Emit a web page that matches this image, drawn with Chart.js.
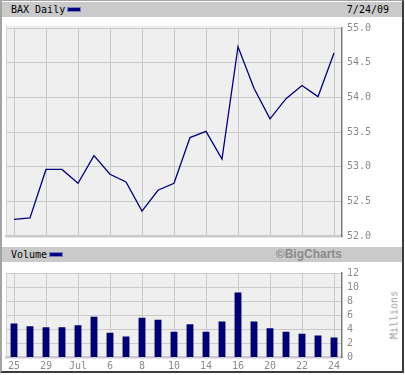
<!DOCTYPE html>
<html>
<head>
<meta charset="utf-8">
<script src="https://cdn.jsdelivr.net/npm/chart.js@4/dist/chart.umd.min.js"></script>
<style>
  html, body { margin: 0; padding: 0; background: #fff; }
  body { width: 405px; height: 375px; position: relative; overflow: hidden; font-family: "DejaVu Sans Mono", monospace; }
  #frame { position: absolute; left: 0; top: 0; width: 404px; height: 373px; box-sizing: border-box;
           border-left: 2px solid #a4a4a4; border-top: 1px solid #a4a4a4; border-right: 2px solid #3c3c3c; border-bottom: 2px solid #3c3c3c; }
  .bar { position: absolute; left: 2px; width: 400px; height: 15px; background: #cacaca; font-size: 10px; line-height: 15px; color: #000; }
  .bar .t { position: absolute; left: 9px; top: 0; }
  .sw { display: inline-block; width: 12px; height: 3px; background: #000080; vertical-align: 2px; margin-left: 3px; outline: 1px solid #8080b8; }
  #date { position: absolute; right: 13px; top: 0; }
  #bc { position: absolute; right: 60px; top: 0; font-family: "Liberation Sans", Arial, sans-serif; font-weight: bold; font-size: 12px; color: #8a8a8a; }
  canvas { position: absolute; left: 0; }
  #mil { position: absolute; left: 393.5px; top: 315px; transform: translate(-50%, -50%) rotate(-90deg); font-size: 10px; color: #9a9a9a; white-space: nowrap; }
</style>
</head>
<body>
<div id="frame"></div>
<div class="bar" style="top:2px"><span class="t">BAX Daily<span class="sw"></span></span><span id="date">7/24/09</span></div>
<div class="bar" style="top:247px"><span class="t">Volume<span class="sw"></span></span><span id="bc">©BigCharts</span></div>
<canvas id="price" width="405" height="230" style="top:17px"></canvas>
<canvas id="vol" width="405" height="113" style="top:262px"></canvas>
<div id="mil">Millions</div>
<script>
// Trading days 6/25/09 – 7/24/09
const days = ['25','26','29','30','Jul','2','6','7','8','9','10','13','14','15','16','17','20','21','22','23','24'];
const closePrices = [52.24,52.26,52.96,52.96,52.76,53.16,52.89,52.78,52.36,52.66,52.76,53.42,53.51,53.11,54.73,54.13,53.69,53.98,54.17,54.01,54.64];
const volumeMillions = [4.84,4.44,4.31,4.31,4.57,5.77,3.51,2.97,5.64,5.37,3.64,4.71,3.64,5.11,9.24,5.11,4.17,3.64,3.37,3.11,2.84];
const priceTicks = [52.0,52.5,53.0,53.5,54.0,54.5,55.0];
const volumeTicks = [0,2,4,6,8,10,12];

Chart.defaults.font.family = '"DejaVu Sans Mono", monospace';
Chart.defaults.font.size = 10;
Chart.defaults.color = '#8a8a8a';

const GRID = '#cacaca';
const BG = '#efefef';

function bgPlugin(extraTop) {
  return {
    id: 'bg',
    beforeDraw(chart) {
      const a = chart.chartArea, c = chart.ctx;
      c.save();
      c.fillStyle = BG;
      c.fillRect(a.left, a.top - extraTop, a.right - a.left, a.bottom - a.top + extraTop);
      c.fillStyle = '#d6d6d6';
      c.fillRect(a.left, a.top - extraTop, 1, a.bottom - a.top + extraTop);
      c.restore();
    }
  };
}

function xAxis(showLabels) {
  return {
    type: 'category',
    offset: true,
    grid: { offset: false, drawTicks: false, color: (ctx) => (ctx.index % 2 === 0 ? GRID : 'rgba(0,0,0,0)'), lineWidth: 1 },
    border: { display: true, color: GRID, width: 2.5 },
    ticks: {
      display: showLabels, autoSkip: false, maxRotation: 0, padding: 3, color: '#8a8a8a',
      callback: (v, i) => (i % 2 === 0 ? days[i] : '')
    },
    afterFit: (s) => { s.height = showLabels ? 16 : 0; }
  };
}

function yAxis(min, max, ticks, fmt) {
  return {
    position: 'right', min: min, max: max,
    afterBuildTicks: (s) => { s.ticks = ticks.map(v => ({ value: v })); },
    grid: { drawTicks: false, color: GRID },
    border: { display: true, color: '#7c7c7c', width: 1.5 },
    ticks: { padding: 5, autoSkip: false, callback: fmt },
    afterFit: (s) => { s.width = 63; }
  };
}

new Chart(document.getElementById('price'), {
  type: 'line',
  data: { labels: days, datasets: [{ data: closePrices, borderColor: '#000080', borderWidth: 1.3, pointRadius: 0, tension: 0, fill: false }] },
  options: {
    responsive: false, animation: false, devicePixelRatio: 1,
    layout: { padding: { left: 6, top: 5.5, right: 0, bottom: 8.7 } },
    plugins: { legend: { display: false }, tooltip: { enabled: false } },
    scales: {
      x: xAxis(false),
      y: yAxis(52, 55, priceTicks, (v) => Number(v).toFixed(1))
    }
  },
  plugins: [bgPlugin(2.5)]
});

new Chart(document.getElementById('vol'), {
  type: 'bar',
  data: { labels: days, datasets: [{ data: volumeMillions, backgroundColor: '#000073', categoryPercentage: 1, barPercentage: 0.43 }] },
  options: {
    responsive: false, animation: false, devicePixelRatio: 1,
    layout: { padding: { left: 6, top: 5.5, right: 0, bottom: 1.5 } },
    plugins: { legend: { display: false }, tooltip: { enabled: false } },
    scales: {
      x: xAxis(true),
      y: yAxis(0, 12, volumeTicks, (v) => String(v))
    }
  },
  plugins: [bgPlugin(0)]
});
</script>
</body>
</html>
